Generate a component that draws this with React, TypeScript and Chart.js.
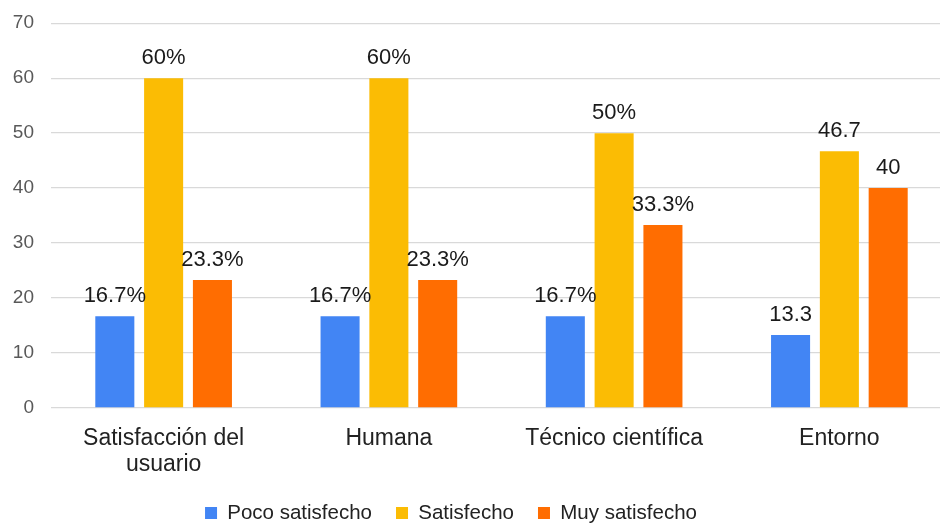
import React, { useEffect, useRef } from "react";
import { Chart, registerables } from "chart.js";

Chart.register(...registerables);

const categories: (string | string[])[] = [
  ["Satisfacción del", "usuario"],
  "Humana",
  "Técnico científica",
  "Entorno",
];

const seriesNames = ["Poco satisfecho", "Satisfecho", "Muy satisfecho"];
const seriesColors = ["#4285F4", "#FBBC04", "#FF6D01"];

const pocoSatisfecho = [16.7, 16.7, 16.7, 13.3];
const satisfecho = [60, 60, 50, 46.7];
const muySatisfecho = [23.3, 23.3, 33.3, 40];

const pocoLabels = ["16.7%", "16.7%", "16.7%", "13.3"];
const satisfechoLabels = ["60%", "60%", "50%", "46.7"];
const muyLabels = ["23.3%", "23.3%", "33.3%", "40"];

const yTicks = { min: 0, max: 70, step: 10 };

const FONT = "'Liberation Sans', Arial, sans-serif";

export default function App() {
  const ref = useRef<HTMLCanvasElement | null>(null);

  useEffect(() => {
    if (!ref.current) return;
    const labelSets = [pocoLabels, satisfechoLabels, muyLabels];

    const dataLabelPlugin = {
      id: "dataLabels",
      afterDatasetsDraw(chart: any) {
        const ctx = chart.ctx;
        ctx.save();
        ctx.font = `22px ${FONT}`;
        ctx.fillStyle = "#1a1a1a";
        ctx.textAlign = "center";
        ctx.textBaseline = "alphabetic";
        chart.data.datasets.forEach((ds: any, di: number) => {
          const meta = chart.getDatasetMeta(di);
          meta.data.forEach((el: any, i: number) => {
            ctx.fillText(labelSets[di][i], el.x, el.y - 14);
          });
        });
        ctx.restore();
      },
    };

    const chart = new Chart(ref.current, {
      type: "bar",
      data: {
        labels: categories,
        datasets: [pocoSatisfecho, satisfecho, muySatisfecho].map((d, i) => ({
          label: seriesNames[i],
          data: d,
          backgroundColor: seriesColors[i],
          borderWidth: 0,
          categoryPercentage: 0.65,
          barPercentage: 0.8,
        })),
      },
      options: {
        responsive: false,
        animation: false,
        layout: { padding: { left: 50, right: 0, top: 18, bottom: 6.75 } },
        scales: {
          x: {
            grid: { display: false },
            border: { display: false },
            ticks: {
              color: "#222222",
              font: { family: FONT, size: 23, lineHeight: 1.13 },
              padding: 10,
              maxRotation: 0,
              autoSkip: false,
            },
            afterFit: (scale: any) => {
              scale.height = 70.75;
            },
          },
          y: {
            min: yTicks.min,
            max: yTicks.max,
            border: { display: false },
            grid: { color: "#d9d9d9", lineWidth: 1.3, drawTicks: false },
            ticks: {
              stepSize: yTicks.step,
              color: "#595959",
              font: { family: FONT, size: 19, lineHeight: 0.65 },
              padding: 17,
            },
            afterFit: (scale: any) => {
              scale.width = 101;
            },
          },
        },
        plugins: {
          legend: {
            position: "bottom",
            labels: {
              boxWidth: 12,
              boxHeight: 12,
              padding: 24,
              color: "#222222",
              font: { family: FONT, size: 20.5 },
            },
          },
          tooltip: { enabled: false },
        },
      },
      plugins: [dataLabelPlugin],
    });
    return () => chart.destroy();
  }, []);

  return (
    <div style={{ position: "fixed", left: -100, top: 0, width: 1052, height: 540, background: "#fff" }}>
      <canvas ref={ref} width={1052} height={540} style={{ width: 1052, height: 540, display: "block" }} />
    </div>
  );
}
